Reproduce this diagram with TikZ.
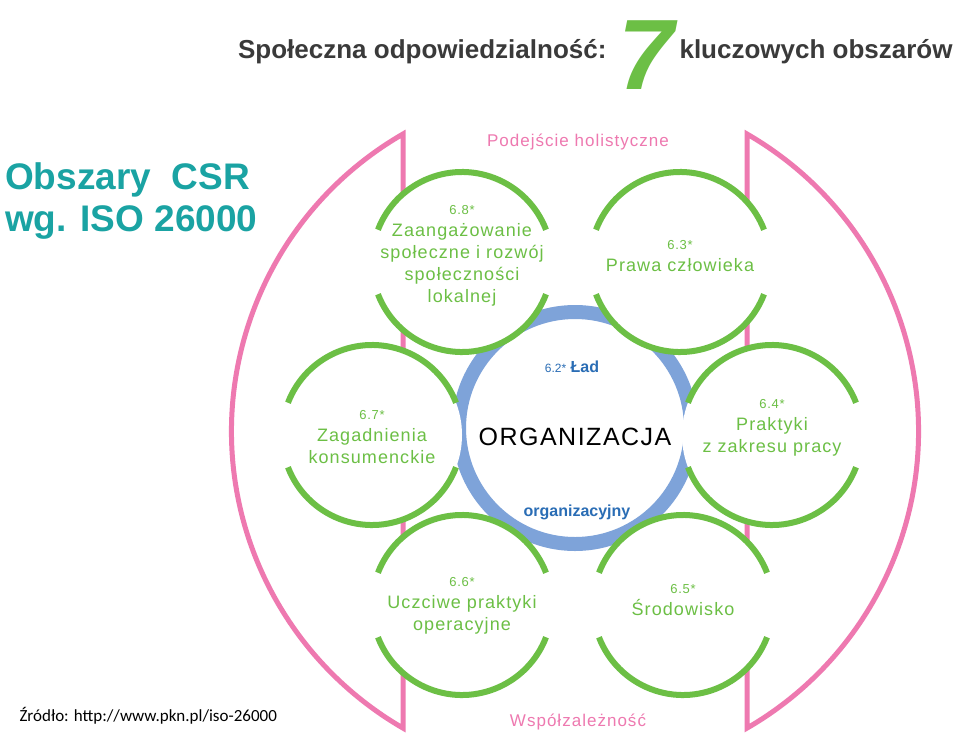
\documentclass[tikz,border=0pt]{standalone}
\usepackage{fontspec}
\setmainfont{Liberation Sans}
\newfontfamily\srcfont{Carlito}
\newfontfamily\widefont[LetterSpace=6]{Liberation Sans}
\usetikzlibrary{positioning}
\definecolor{csrgreen}{HTML}{6CBF45}
\definecolor{csrpink}{HTML}{EE79B0}
\definecolor{csrblue}{HTML}{7EA3D9}
\definecolor{csrtext}{HTML}{2A6DB5}
\definecolor{csrteal}{HTML}{1AA3A3}
\definecolor{csrgray}{HTML}{3A3A3A}
\tikzset{
  area/.style={align=center,text=csrgreen,font=\widefont\fontsize{18}{22}\selectfont},
  pinkline/.style={csrpink,line width=5pt,line join=miter},
  pinklabel/.style={text=csrpink,font=\widefont\fontsize{17}{20}\selectfont}
}
\newcommand{\areanum}{\fontsize{13}{15}\selectfont}
\newcommand{\greenring}[2]{%
  \fill[white] (#1,#2) circle (90);
  \draw[csrgreen,line width=6pt] ([shift={(21:90)}]#1,#2) arc (21:159:90);
  \draw[csrgreen,line width=6pt] ([shift={(201:90)}]#1,#2) arc (201:339:90);
}
\begin{document}
\begin{tikzpicture}[x=1pt,y=-1pt]
  \useasboundingbox[fill=white] (0,0) rectangle (960,741);

  % title
  \node[anchor=east,text=csrgray,font=\bfseries\fontsize{26}{30}\selectfont] (title)
    at (610,52) {Społeczna odpowiedzialność:};
  \node[text=csrgreen,font=\bfseries\itshape\fontsize{100}{100}\selectfont] (seven)
    at (646,55) {7};
  \node[anchor=west,text=csrgray,font=\bfseries\fontsize{26}{30}\selectfont] (title2)
    at (676,52) {kluczowych obszarów};
  \node[anchor=north west,align=left,text=csrteal,inner sep=0pt,
    font=\bfseries\fontsize{37}{42}\selectfont] (csr)
    at (5,162) {Obszary\ \ CSR\\wg. ISO 26000};
  \node[anchor=west,font=\srcfont\fontsize{17}{20}\selectfont] (src)
    at (16,716) {Źródło: http://www.pkn.pl/iso-26000};

  % pink outer frame
  \draw[pinkline] (403,134) arc (240:120:343) -- cycle;
  \draw[pinkline] (747,134) arc (-60:60:343) -- cycle;
  \node[pinklabel] (holist) at (578,142) {Podejście holistyczne};
  \node[pinklabel] (wspol) at (578,722) {Współzależność};

  % organisation ring
  \draw[csrblue,line width=14pt] (575,428) circle (116);

  % seven areas
  \greenring{462}{262}
  \greenring{680}{262}
  \greenring{372}{435}
  \greenring{772}{435}
  \greenring{462}{605}
  \greenring{683}{605}

  \node[area] (a68) at (462,256) {{\areanum 6.8*}\\Zaangażowanie\\społeczne i rozwój\\społeczności\\lokalnej};
  \node[area] (a63) at (680,256) {{\areanum 6.3*}\\Prawa człowieka};
  \node[area] (a67) at (372,437) {{\areanum 6.7*}\\Zagadnienia\\konsumenckie};
  \node[area] (a64) at (772,428) {{\areanum 6.4*}\\Praktyki\\z zakresu pracy};
  \node[area] (a66) at (462,606) {{\areanum 6.6*}\\Uczciwe praktyki\\operacyjne};
  \node[area] (a65) at (683,600) {{\areanum 6.5*}\\Środowisko};

  \node[text=csrtext,font=\bfseries\fontsize{16}{18}\selectfont] (lad)
    at (572,367) {{\fontsize{12}{14}\selectfont\mdseries 6.2*} Ład};
  \node[font=\widefont\fontsize{25}{28}\selectfont] (org) at (575,437) {ORGANIZACJA};
  \node[text=csrtext,font=\bfseries\fontsize{16}{18}\selectfont] (orgz)
    at (577,512) {organizacyjny};
\end{tikzpicture}
\end{document}
